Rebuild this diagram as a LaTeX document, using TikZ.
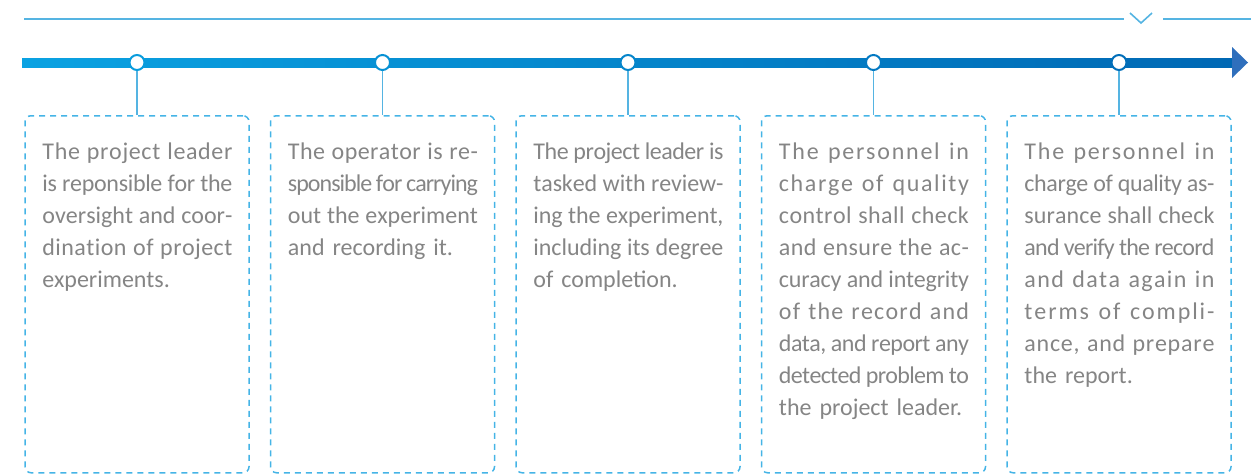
\documentclass[tikz,border=0pt]{standalone}
\usepackage{fontspec}
\setmainfont{Carlito}
\newfontfamily\cardfont{Carlito}
\ExplSyntaxOn
\cs_new_protected:Npn \fitline #1
  {
    \mode_leave_vertical:
    \hbox_to_wd:nn {190pt}
      {
        \str_map_inline:nn {#1}
          {
            \str_if_eq:nnTF {##1} {~} { \hskip 0.24em \relax } { ##1 }
            \hskip 0pt plus 1fil minus 1fil \relax
          }
        \unskip
      }
  }
\ExplSyntaxOff
\definecolor{barL}{HTML}{0AA2E2}
\definecolor{barR}{HTML}{0068B4}
\definecolor{tipc}{HTML}{2F6FBC}
\definecolor{dashc}{HTML}{45B4E6}
\definecolor{linec}{HTML}{55B4E2}
\definecolor{txtc}{HTML}{858585}
\tikzset{
  dot/.style={circle, draw=#1, fill=white, line width=2pt, minimum size=15pt, inner sep=0pt},
  card/.style={draw=dashc, line width=1.5pt, dash pattern=on 6pt off 5pt, rounded corners=6pt, minimum width=224pt, minimum height=357pt, inner sep=0pt},
  cardtext/.style={anchor=north west, inner sep=0pt, text width=190pt, align=left, text=txtc, font=\cardfont\fontsize{24}{32}\selectfont},
  stem/.style={draw=linec, line width=1.3pt},
  topline/.style={draw=linec, line width=1.3pt}
}
\begin{document}
\begin{tikzpicture}[x=1pt,y=-1pt]
\useasboundingbox (0,0) rectangle (1252,475);
% top rule with chevron
\coordinate (tl1) at (24,19);
\coordinate (tl2) at (1124,19);
\coordinate (tl3) at (1163,19);
\coordinate (tl4) at (1251,19);
\draw[topline] (tl1) -- (tl2);
\draw[topline] (tl3) -- (tl4);
\coordinate (ch1) at (1130,13);
\coordinate (ch2) at (1141,23);
\coordinate (ch3) at (1152,13);
\draw[topline, line width=1.6pt] (ch1) -- (ch2) -- (ch3);
% timeline bar
\shade[left color=barL, right color=barR] (22,58) rectangle (1233,67);
\coordinate (tipA) at (1232,47);
\coordinate (tipB) at (1248,62.5);
\coordinate (tipC) at (1232,78);
\fill[tipc] (tipA) -- (tipB) -- (tipC) -- cycle;
% cards
\foreach \i/\x in {1/137,2/382.5,3/628,4/873.5,5/1119}{
  \node[card, anchor=north] (b\i) at (\x,115) {};
}
% dots
\node[dot=barL!90!barR] (c1) at (137,62.5) {};
\node[dot=barL!70!barR] (c2) at (382.5,62.5) {};
\node[dot=barL!50!barR] (c3) at (628,62.5) {};
\node[dot=barL!30!barR] (c4) at (873.5,62.5) {};
\node[dot=barL!10!barR] (c5) at (1119,62.5) {};
\foreach \i in {1,...,5}{
  \draw[stem] (c\i.south) -- (b\i.north);
}
% texts
\node[cardtext] (t1) at ([xshift=18pt,yshift=-28pt]b1.north west) {\fitline{The project leader}\\\fitline{is reponsible for the}\\\fitline{oversight and coor-}\\\fitline{dination of project}\\\mbox{experiments.}};
\node[cardtext] (t2) at ([xshift=18pt,yshift=-28pt]b2.north west) {\fitline{The operator is re-}\\\fitline{sponsible for carrying}\\\fitline{out the experiment}\\\mbox{and recording it.}};
\node[cardtext] (t3) at ([xshift=18pt,yshift=-28pt]b3.north west) {\fitline{The project leader is}\\\fitline{tasked with review-}\\\fitline{ing the experiment,}\\\fitline{including its degree}\\\mbox{of completion.}};
\node[cardtext] (t4) at ([xshift=18pt,yshift=-28pt]b4.north west) {\fitline{The personnel in}\\\fitline{charge of quality}\\\fitline{control shall check}\\\fitline{and ensure the ac-}\\\fitline{curacy and integrity}\\\fitline{of the record and}\\\fitline{data, and report any}\\\fitline{detected problem to}\\\mbox{the project leader.}};
\node[cardtext] (t5) at ([xshift=18pt,yshift=-28pt]b5.north west) {\fitline{The personnel in}\\\fitline{charge of quality as-}\\\fitline{surance shall check}\\\fitline{and verify the record}\\\fitline{and data again in}\\\fitline{terms of compli-}\\\fitline{ance, and prepare}\\\mbox{the report.}};
\end{tikzpicture}
\end{document}
